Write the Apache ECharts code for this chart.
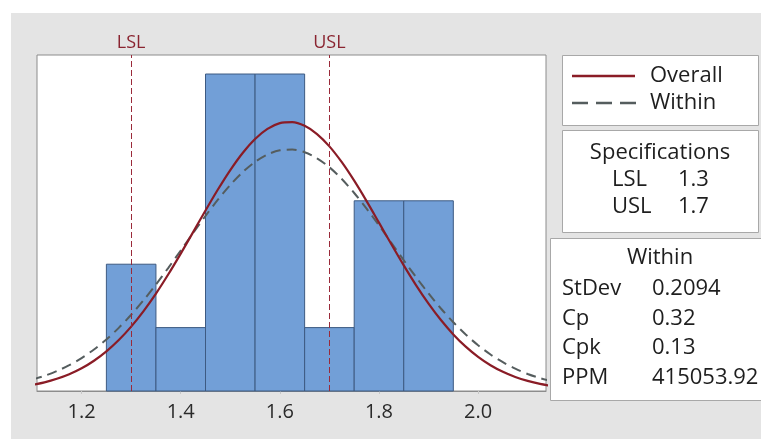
<!DOCTYPE html>
<html><head><meta charset="utf-8">
<script src="https://cdn.jsdelivr.net/npm/echarts@6/dist/echarts.min.js"></script>
<style>
html,body{margin:0;padding:0;background:#fff;}
#bg{position:absolute;left:11px;top:13px;width:750px;height:426px;background:#e4e4e4;}
#chart{position:absolute;left:0;top:0;width:761px;height:439px;}
</style></head><body><div id="bg"></div><div id="chart"></div>
<script>
// ---- data ----
const binLeft  = [1.25, 1.35, 1.45, 1.55, 1.65, 1.75, 1.85];
const binRight = [1.35, 1.45, 1.55, 1.65, 1.75, 1.85, 1.95];
const counts   = [2, 1, 5, 5, 1, 3, 3];
const curveX = [1.100,1.125,1.150,1.175,1.200,1.225,1.250,1.275,1.300,1.325,1.350,1.375,1.400,1.425,1.450,1.475,1.500,1.525,1.550,1.575,1.600,1.625,1.650,1.675,1.700,1.725,1.750,1.775,1.800,1.825,1.850,1.875,1.900,1.925,1.950,1.975,2.000,2.025,2.050,2.075,2.100,2.125,2.150];
const overallFit = [0.095,0.136,0.192,0.264,0.358,0.477,0.625,0.803,1.015,1.260,1.536,1.841,2.167,2.506,2.847,3.178,3.485,3.755,3.975,4.134,4.225,4.241,4.183,4.053,3.859,3.609,3.317,2.995,2.656,2.315,1.982,1.667,1.378,1.119,0.893,0.700,0.539,0.407,0.303,0.221,0.159,0.112,0.078];
const withinFit  = [0.179,0.238,0.314,0.407,0.520,0.655,0.813,0.996,1.203,1.432,1.680,1.943,2.216,2.492,2.762,3.018,3.251,3.452,3.614,3.731,3.796,3.808,3.766,3.671,3.529,3.344,3.123,2.876,2.612,2.337,2.062,1.794,1.539,1.301,1.084,0.891,0.722,0.576,0.454,0.352,0.269,0.203,0.151];
const xTicks = [1.2, 1.4, 1.6, 1.8, 2.0];
const specNames  = ['LSL', 'USL'];
const specValues = [1.3, 1.7];
const legendNames = ['Overall', 'Within'];
const withinLabels = ['StDev', 'Cp', 'Cpk', 'PPM'];
const withinValues = ['0.2094', '0.32', '0.13', '415053.92'];

// ---- styles ----
const FONT = '"Open Sans", "Noto Sans", sans-serif';
const RED = '#8a1c26';
const GRAYDASH = '#555d5e';
const BOX = '#a8a8a8';
const TXT = '#1e1e1e';

const chart = echarts.init(document.getElementById('chart'), null, {renderer:'canvas'});

const histData = binLeft.map((l, i) => [l, binRight[i], counts[i]]);
const overallData = curveX.map((x, i) => [x, overallFit[i]]);
const withinData = curveX.map((x, i) => [x, withinFit[i]]);

const graphics = [];
// legend box
graphics.push({type:'rect', shape:{x:562.5, y:55.5, width:196, height:70}, style:{fill:'#fff', stroke:BOX, lineWidth:1}, z:10});
graphics.push({type:'line', shape:{x1:572, y1:76, x2:635, y2:76}, style:{stroke:RED, lineWidth:2.5}, z:11});
graphics.push({type:'line', shape:{x1:572, y1:103, x2:636, y2:103}, style:{stroke:GRAYDASH, lineWidth:2.5, lineDash:[16,8]}, z:11});
graphics.push({type:'text', x:650, y:76, style:{text:legendNames[0], font:'22px '+FONT, fill:TXT, textVerticalAlign:'middle'}, z:11});
graphics.push({type:'text', x:650, y:103, style:{text:legendNames[1], font:'22px '+FONT, fill:TXT, textVerticalAlign:'middle'}, z:11});
// specifications box
graphics.push({type:'rect', shape:{x:562.5, y:130.5, width:196, height:102}, style:{fill:'#fff', stroke:BOX, lineWidth:1}, z:10});
graphics.push({type:'text', x:660, y:153, style:{text:'Specifications', font:'22px '+FONT, fill:TXT, textAlign:'center', textVerticalAlign:'middle'}, z:11});
specNames.forEach((n, i) => {
  graphics.push({type:'text', x:612, y:180 + i*27, style:{text:n, font:'22px '+FONT, fill:TXT, textVerticalAlign:'middle'}, z:11});
  graphics.push({type:'text', x:678, y:180 + i*27, style:{text:String(specValues[i]), font:'22px '+FONT, fill:TXT, textVerticalAlign:'middle'}, z:11});
});
// within box
graphics.push({type:'rect', shape:{x:550.5, y:238.5, width:220, height:162}, style:{fill:'#fff', stroke:BOX, lineWidth:1}, z:10});
graphics.push({type:'text', x:660, y:258, style:{text:'Within', font:'22px '+FONT, fill:TXT, textAlign:'center', textVerticalAlign:'middle'}, z:11});
withinLabels.forEach((n, i) => {
  graphics.push({type:'text', x:562, y:289 + i*29.5, style:{text:n, font:'22px '+FONT, fill:TXT, textVerticalAlign:'middle'}, z:11});
  graphics.push({type:'text', x:652, y:289 + i*29.5, style:{text:withinValues[i], font:'22px '+FONT, fill:TXT, textVerticalAlign:'middle'}, z:11});
});

const option = {
  animation: false,
  backgroundColor: 'transparent',
  grid: {left:37, right:215, top:55, bottom:48, show:true, backgroundColor:'#fff', borderColor:'#8c8c8c', borderWidth:1},
  xAxis: {
    type:'value', min:1.11, max:2.137,
    axisLine:{show:true, lineStyle:{color:'#8c8c8c'}},
    axisTick:{show:true, customValues:xTicks, length:3, lineStyle:{color:'#c8c8c8'}},
    axisLabel:{customValues:xTicks, formatter:v => v.toFixed(1), fontSize:20, color:'#2a2a2a', fontFamily:FONT, margin:11},
    splitLine:{show:false}
  },
  yAxis: {type:'value', min:0, max:5.3, show:false, splitLine:{show:false}},
  series: [
    {
      type:'line', data:[], z:1, silent:true,
      markLine:{
        symbol:'none', silent:true,
        lineStyle:{color:'#9a2a3a', width:1, type:[6,3]},
        label:{show:true, position:'end', distance:3, color:'#8a2430', fontSize:18, fontFamily:FONT, formatter:p => p.name},
        data: specValues.map((v, i) => ({name:specNames[i], xAxis:v}))
      }
    },
    {
      type:'custom', z:2, data:histData, encode:{x:[0,1], y:2},
      renderItem:(params, api) => {
        const p0 = api.coord([api.value(0), api.value(2)]);
        const p1 = api.coord([api.value(1), 0]);
        return {type:'rect', shape:{x:p0[0], y:p0[1], width:p1[0]-p0[0], height:p1[1]-p0[1]},
                style:{fill:'#729fd7', stroke:'#3d5a82', lineWidth:1}};
      }
    },
    {type:'line', z:3, data:withinData, smooth:0.3, showSymbol:false, lineStyle:{color:GRAYDASH, width:2, type:[10,6]}},
    {type:'line', z:4, data:overallData, smooth:0.3, showSymbol:false, lineStyle:{color:RED, width:2.2}}
  ],
  graphic: graphics
};
chart.setOption(option);
</script>
</body></html>
